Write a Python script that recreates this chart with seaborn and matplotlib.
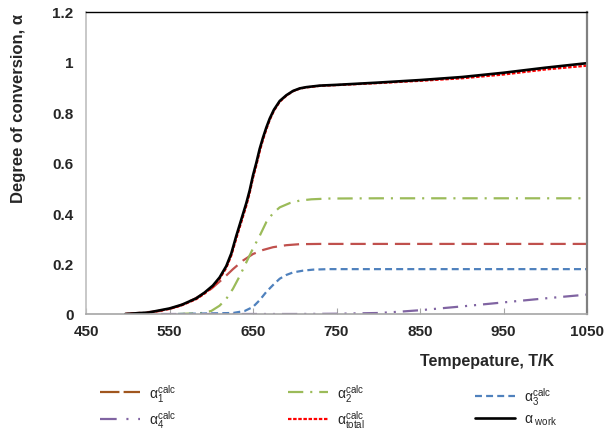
import matplotlib
matplotlib.use("Agg")
import matplotlib.pyplot as plt
import seaborn as sns
import numpy as np
from matplotlib.lines import Line2D

# ---------------- data ----------------
T_work = [497, 525, 550, 565, 582, 592, 602, 610, 618, 624, 630, 636, 642, 646, 650,
          654, 658, 662, 666, 670, 675, 682, 690, 698, 706, 714, 730, 750, 800, 850,
          900, 950, 1000, 1050]
a_work = [0.0, 0.006, 0.022, 0.037, 0.062, 0.085, 0.113, 0.145, 0.19, 0.24, 0.31, 0.375,
          0.44, 0.49, 0.55, 0.60, 0.655, 0.70, 0.74, 0.775, 0.81, 0.845, 0.868, 0.885,
          0.895, 0.90, 0.906, 0.909, 0.918, 0.928, 0.94, 0.957, 0.977, 0.995]

T_total = [497, 525, 550, 565, 582, 592, 602, 610, 618, 624, 630, 636, 642, 646, 650,
           654, 658, 662, 666, 670, 675, 682, 690, 698, 706, 714, 730, 750, 800, 850,
           900, 950, 1000, 1050]
a_total = [0.0, 0.005, 0.02, 0.035, 0.059, 0.081, 0.108, 0.14, 0.183, 0.232, 0.30, 0.365,
           0.43, 0.48, 0.54, 0.59, 0.645, 0.692, 0.733, 0.77, 0.806, 0.842, 0.866, 0.884,
           0.894, 0.899, 0.905, 0.908, 0.916, 0.925, 0.935, 0.95, 0.97, 0.985]

T_1 = [497, 540, 560, 580, 600, 614, 626, 638, 650, 662, 674, 690, 706, 730, 800, 1050]
a_1 = [0.0, 0.012, 0.03, 0.06, 0.10, 0.14, 0.178, 0.212, 0.238, 0.254, 0.265, 0.273,
       0.277, 0.278, 0.278, 0.278]

T_2 = [560, 590, 600, 610, 618, 626, 634, 642, 650, 658, 666, 674, 682, 694, 706, 720,
       740, 800, 1050]
a_2 = [0.0, 0.004, 0.012, 0.033, 0.06, 0.10, 0.15, 0.205, 0.26, 0.31, 0.365, 0.40, 0.423,
       0.44, 0.45, 0.455, 0.458, 0.459, 0.459]

T_3 = [560, 626, 640, 650, 658, 666, 674, 682, 690, 698, 710, 722, 740, 800, 1050]
a_3 = [0.0, 0.004, 0.012, 0.028, 0.055, 0.088, 0.115, 0.14, 0.155, 0.165, 0.172, 0.176,
       0.178, 0.178, 0.178]

T_4 = [540, 700, 750, 800, 825, 850, 900, 950, 1000, 1050]
a_4 = [0.0, 0.0, 0.001, 0.004, 0.009, 0.015, 0.03, 0.046, 0.062, 0.077]

x_ticks = [450, 550, 650, 750, 850, 950, 1050]
y_ticks = [0, 0.2, 0.4, 0.6, 0.8, 1.0, 1.2]
y_ticklabels = ["0", "0.2", "0.4", "0.6", "0.8", "1", "1.2"]

labels = [r"$\mathregular{\alpha_1^{calc}}$", r"$\mathregular{\alpha_2^{calc}}$",
          r"$\mathregular{\alpha_3^{calc}}$", r"$\mathregular{\alpha_4^{calc}}$",
          r"$\mathregular{\alpha_{total}^{calc}}$", r"$\mathregular{\alpha_{\ work}}$"]

# ---------------- style ----------------
sns.set_style("white")
plt.rcParams["font.family"] = ["Liberation Sans", "DejaVu Sans"]
plt.rcParams["mathtext.fontset"] = "custom"
plt.rcParams["mathtext.rm"] = "Liberation Sans"
plt.rcParams["mathtext.it"] = "Liberation Sans:italic"
plt.rcParams["mathtext.bf"] = "Liberation Sans:bold"
plt.rcParams["lines.scale_dashes"] = False

fig = plt.figure(figsize=(6.12, 4.35), dpi=100)
ax = fig.add_axes([86 / 612, 1 - 315 / 435, (587 - 86) / 612, (315 - 12.5) / 435])

c1, c2, c3, c4 = "#C0504D", "#9BBB59", "#4F81BD", "#8064A2"
lw = 1.6
specs = [
    (T_1, a_1, c1, (0, (11, 5)), lw),
    (T_2, a_2, c2, (0, (11, 5, 1.5, 5)), lw),
    (T_3, a_3, c3, (0, (5, 3)), lw),
    (T_4, a_4, c4, (0, (11, 5, 1.5, 5, 1.5, 5)), lw),
    (T_total, a_total, "#FF0000", (0, (2.5, 1.2)), lw),
    (T_work, a_work, "black", "-", 1.9),
]
legend_colors = ["#A0561E", c2, c3, c4, "#FF0000", "black"]
legend_styles = [(0, (14, 3)), (0, (11, 5, 1.5, 5)), (0, (5, 3)),
                 (0, (12, 7, 1.5, 7, 1.5, 7)), (0, (2.5, 1.2)), "-"]
handles = []
for k, ((tx, ay, col, ls, w), lab) in enumerate(zip(specs, labels)):
    sns.lineplot(x=tx, y=ay, ax=ax, color=col, linestyle=ls, linewidth=w,
                 estimator=None, sort=True, legend=False)
    handles.append(Line2D([], [], color=legend_colors[k], linestyle=legend_styles[k],
                          linewidth=w))

ax.set_xlim(450, 1050)
ax.set_ylim(0, 1.2)
ax.set_xticks(x_ticks)
ax.set_xticklabels([str(v) for v in x_ticks], fontweight="bold", fontsize=11)
ax.set_yticks(y_ticks)
ax.set_yticklabels(y_ticklabels, fontweight="bold", fontsize=11)
ax.tick_params(axis="x", direction="in", length=4, color="#A6A6A6", pad=7, bottom=True)
ax.tick_params(axis="y", length=0, pad=9)
ax.set_xlabel("")
ax.set_ylabel("")

for side, col, w in [("left", "#BFBFBF", 1.2), ("bottom", "#A6A6A6", 1.2),
                     ("top", "black", 1.0), ("right", "#808080", 1.6)]:
    ax.spines[side].set_visible(True)
    ax.spines[side].set_color(col)
    ax.spines[side].set_linewidth(w)

fig.text(487 / 612, 1 - 362 / 435, "Tempepature, T/K", ha="center", va="center",
         fontsize=11.5, fontweight="bold")
fig.text(19 / 612, 1 - 108 / 435, "Degree of conversion, α", ha="center", va="center",
         rotation=90, fontsize=12, fontweight="bold")

# legend: three columns, two rows each
cols_x = [100, 288, 475]
pairs = [(0, 3), (1, 4), (2, 5)]
for cx, (i, j) in zip(cols_x, pairs):
    fig.legend([handles[i], handles[j]], [labels[i], labels[j]],
               loc="center left", bbox_to_anchor=(cx / 612, 1 - 407 / 435),
               frameon=False, fontsize=10, handlelength=2.9, handletextpad=0.6,
               borderpad=0, borderaxespad=0, labelspacing=0.35)

fig.savefig("out.png", dpi=100)
